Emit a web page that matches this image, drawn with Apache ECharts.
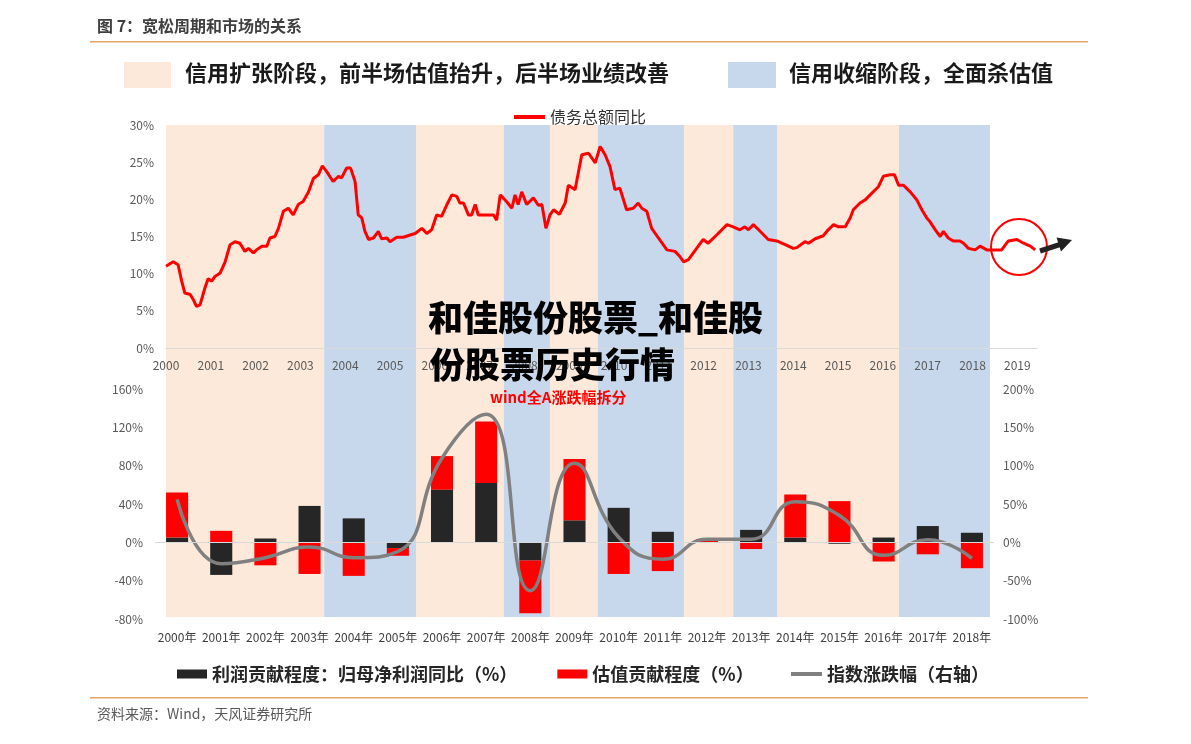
<!DOCTYPE html>
<html>
<head>
<meta charset="utf-8">
<title>宽松周期和市场的关系</title>
<script src="https://cdn.jsdelivr.net/npm/echarts@6.0.0/dist/echarts.min.js"></script>
<style>
  html, body { margin: 0; padding: 0; background: #fff; }
  #chart { width: 1191px; height: 744px; }
</style>
</head>
<body>
<div id="chart"></div>
<script>
// 上图：债务总额同比（%），横轴为年份（小数表示月份位置）
const debtT = [
  2000.00, 2000.16, 2000.27, 2000.35, 2000.42, 2000.54, 2000.61, 2000.68, 2000.76, 2000.87,
  2000.94, 2001.02, 2001.09, 2001.21, 2001.32, 2001.43, 2001.54, 2001.65, 2001.76, 2001.84,
  2001.95, 2002.02, 2002.14, 2002.25, 2002.32, 2002.43, 2002.51, 2002.62, 2002.73, 2002.84,
  2002.95, 2003.06, 2003.18, 2003.29, 2003.40, 2003.49, 2003.59, 2003.73, 2003.85, 2003.92,
  2004.03, 2004.12, 2004.22, 2004.29, 2004.37, 2004.44, 2004.52, 2004.63, 2004.74, 2004.81,
  2004.93, 2005.00, 2005.15, 2005.30, 2005.45, 2005.56, 2005.71, 2005.82, 2005.93, 2006.04,
  2006.15, 2006.27, 2006.38, 2006.49, 2006.56, 2006.64, 2006.75, 2006.82, 2006.90, 2006.97,
  2007.16, 2007.31, 2007.38, 2007.46, 2007.60, 2007.72, 2007.79, 2007.86, 2007.94, 2008.05,
  2008.20, 2008.31, 2008.39, 2008.48, 2008.57, 2008.65, 2008.78, 2008.91,
  2008.98, 2009.13, 2009.28, 2009.43, 2009.58, 2009.69, 2009.80, 2009.91, 2010.02, 2010.13,
  2010.28, 2010.43, 2010.54, 2010.62, 2010.73, 2010.84, 2010.99, 2011.18, 2011.36, 2011.47,
  2011.55, 2011.66, 2011.77, 2011.88, 2011.99, 2012.10, 2012.29, 2012.52, 2012.66, 2012.81,
  2012.92, 2013.00, 2013.11, 2013.26, 2013.44, 2013.63, 2013.82, 2014.00, 2014.08, 2014.26,
  2014.34, 2014.49, 2014.67, 2014.78, 2014.90, 2015.01, 2015.16, 2015.27, 2015.34, 2015.49,
  2015.60, 2015.75, 2015.90, 2016.01, 2016.16, 2016.26, 2016.35, 2016.46, 2016.61, 2016.76,
  2016.87, 2016.98, 2017.05, 2017.17, 2017.28, 2017.35, 2017.46, 2017.57, 2017.72, 2017.80,
  2017.91, 2018.06, 2018.17, 2018.32, 2018.47, 2018.65, 2018.80, 2018.99, 2019.14, 2019.29,
  2019.40
];
const debtYoY = [
  11.0, 11.6, 11.2, 9.0, 7.4, 7.2, 6.5, 5.6, 5.8, 8.1,
  9.3, 9.0, 9.6, 10.1, 11.6, 13.9, 14.3, 14.1, 13.0, 13.4,
  12.8, 13.2, 13.7, 13.7, 14.8, 15.0, 16.1, 18.4, 18.8, 17.9,
  19.3, 19.7, 21.0, 22.8, 23.3, 24.5, 23.7, 22.4, 23.1, 22.9,
  24.2, 24.2, 22.4, 17.9, 17.5, 15.7, 14.6, 14.8, 15.7, 14.7,
  14.8, 14.3, 14.9, 14.9, 15.2, 15.4, 16.1, 15.4, 15.9, 17.9,
  17.7, 19.3, 20.6, 20.4, 19.5, 19.5, 17.9, 17.9, 19.3, 17.9,
  17.9, 17.9, 17.2, 20.6, 19.7, 18.8, 20.6, 19.3, 21.0, 19.3,
  20.2, 19.2, 19.3, 16.1, 17.9, 18.6, 18.0, 19.5,
  21.9, 21.3, 26.0, 26.2, 24.9, 27.1, 26.0, 24.4, 21.3, 21.5,
  18.6, 18.8, 19.5, 18.8, 18.4, 16.1, 14.8, 13.2, 13.0, 12.3,
  11.6, 11.9, 12.8, 13.7, 14.6, 14.1, 15.2, 16.6, 16.3, 15.9,
  16.3, 15.9, 16.6, 15.7, 14.6, 14.4, 13.9, 13.4, 13.5, 14.3,
  14.1, 14.7, 15.1, 15.9, 16.6, 16.3, 16.3, 17.5, 18.6, 19.5,
  19.9, 20.8, 21.7, 23.1, 23.3, 23.3, 21.9, 21.9, 21.0, 19.9,
  18.6, 17.5, 17.0, 15.9, 15.0, 15.7, 14.8, 14.4, 14.4, 14.1,
  13.4, 13.2, 13.7, 13.2, 13.2, 13.2, 14.4, 14.6, 14.1, 13.7,
  13.2
];

// 信用扩张 / 收缩阶段（年份）
const expandPeriods = [[2000, 2003.53], [2005.58, 2007.54], [2008.57, 2009.64], [2011.56, 2012.66], [2013.64, 2016.36]];
const shrinkPeriods = [[2003.53, 2005.58], [2007.54, 2008.57], [2009.64, 2011.56], [2012.66, 2013.64], [2016.36, 2018.39]];

// 下图：wind全A涨跌幅拆分
const years = ['2000年', '2001年', '2002年', '2003年', '2004年', '2005年', '2006年', '2007年', '2008年', '2009年',
  '2010年', '2011年', '2012年', '2013年', '2014年', '2015年', '2016年', '2017年', '2018年'];
const profitPart = [5, -34, 4, 38, 25, -6, 55, 62, -19, 23, 36, 11, 0, 13, 5, -1.5, 5, 17, 10];
const valuePart = [47, 12, -24, -33, -35, -8, 35, 64, -55, 64, -33, -30, 3.5, -7, 45, 43, -20, -12.5, -27];
const indexChg = [56, -28, -20, -6, -20, -12, 110, 167, -63, 103, 6.6, -22, 4, 4, 53, 35, -17, 3.5, -21];

const FONT = "'Noto Sans CJK SC', 'Noto Sans', sans-serif";
const ORANGE_BG = '#FCE9DA';
const BLUE_BG = '#C8D8EC';

const debtData = debtT.map((t, i) => [t, debtYoY[i]]);
const bandData = expandPeriods.map(p => [{ xAxis: p[0], itemStyle: { color: ORANGE_BG } }, { xAxis: p[1] }])
  .concat(shrinkPeriods.map(p => [{ xAxis: p[0], itemStyle: { color: BLUE_BG } }, { xAxis: p[1] }]));

const myChart = echarts.init(document.getElementById('chart'), null, { renderer: 'canvas' });

const option = {
  animation: false,
  textStyle: { fontFamily: FONT },
  legend: [
    {
      data: ['债务总额同比'],
      left: 509, top: 104,
      icon: 'rect', itemWidth: 31, itemHeight: 4, itemGap: 10,
      textStyle: { fontSize: 16, color: '#333', fontFamily: FONT }
    },
    {
      data: ['利润贡献程度：归母净利润同比（%）', '估值贡献程度（%）'],
      left: 172, top: 660,
      icon: 'rect', itemWidth: 30, itemHeight: 9, itemGap: 40,
      textStyle: { fontSize: 18, fontWeight: 'bold', color: '#262626', fontFamily: FONT }
    },
    {
      data: ['指数涨跌幅（右轴）'],
      left: 786, top: 660,
      icon: 'rect', itemWidth: 31, itemHeight: 4,
      textStyle: { fontSize: 18, fontWeight: 'bold', color: '#262626', fontFamily: FONT }
    }
  ],
  grid: [
    { left: 166, right: 154, top: 125, bottom: 396 },   // 上图
    { left: 155, right: 197, top: 389, bottom: 125 },   // 下图
    { left: 166, right: 154, top: 125, bottom: 127 }    // 背景色块
  ],
  xAxis: [
    {
      gridIndex: 0, type: 'value', min: 2000, max: 2019.44, interval: 1, z: 5,
      axisLine: { lineStyle: { color: '#D9D9D9' } },
      axisTick: { show: false },
      splitLine: { show: false },
      axisLabel: {
        color: '#595959', fontSize: 12, margin: 11, showMaxLabel: false,
        formatter: v => (Math.abs(v - Math.round(v)) < 1e-6 ? String(Math.round(v)) : '')
      }
    },
    {
      gridIndex: 1, type: 'category', data: years, z: 5,
      axisLine: { show: false },
      axisTick: { show: false },
      axisLabel: { color: '#404040', fontSize: 12, margin: 12, interval: 0 }
    },
    { gridIndex: 2, type: 'value', min: 2000, max: 2019.44, show: false }
  ],
  yAxis: [
    {
      gridIndex: 0, type: 'value', min: 0, max: 30, interval: 5, z: 5,
      axisLine: { show: false }, axisTick: { show: false }, splitLine: { show: false },
      axisLabel: { color: '#595959', fontSize: 12, margin: 12, formatter: '{value}%' }
    },
    {
      gridIndex: 1, type: 'value', min: -80, max: 160, interval: 40, z: 5,
      axisLine: { show: false }, axisTick: { show: false }, splitLine: { show: false },
      axisLabel: { color: '#595959', fontSize: 12, margin: 12, formatter: '{value}%' }
    },
    {
      gridIndex: 1, type: 'value', position: 'right', min: -100, max: 200, interval: 50, z: 5,
      axisLine: { show: false }, axisTick: { show: false }, splitLine: { show: false },
      axisLabel: { color: '#595959', fontSize: 12, margin: 9, formatter: '{value}%' }
    },
    { gridIndex: 2, type: 'value', min: 0, max: 1, show: false }
  ],
  series: [
    {
      // 背景色块
      type: 'line', xAxisIndex: 2, yAxisIndex: 3, z: 0, silent: true,
      data: [[2000, -1]], symbol: 'none', lineStyle: { width: 0 },
      markArea: { silent: true, data: bandData }
    },
    {
      name: '债务总额同比', type: 'line', xAxisIndex: 0, yAxisIndex: 0, z: 3,
      data: debtData, symbol: 'none',
      lineStyle: { color: '#FF0000', width: 3 },
      itemStyle: { color: '#FF0000' }
    },
    {
      name: '利润贡献程度：归母净利润同比（%）', type: 'bar', xAxisIndex: 1, yAxisIndex: 1, z: 3,
      stack: 'total', barWidth: '50%', data: profitPart,
      itemStyle: { color: '#262626' },
      markLine: {
        silent: true, symbol: ['none', 'none'], label: { show: false },
        lineStyle: { color: '#D9D9D9', type: 'solid', width: 1 },
        data: [{ yAxis: 0 }]
      }
    },
    {
      name: '估值贡献程度（%）', type: 'bar', xAxisIndex: 1, yAxisIndex: 1, z: 3,
      stack: 'total', barWidth: '50%', data: valuePart,
      itemStyle: { color: '#FF0000' }
    },
    {
      name: '指数涨跌幅（右轴）', type: 'line', xAxisIndex: 1, yAxisIndex: 2, z: 4,
      data: indexChg, smooth: 0.5, symbol: 'none',
      lineStyle: { color: '#808080', width: 3.5 },
      itemStyle: { color: '#808080' }
    }
  ],
  graphic: [
    { type: 'text', left: 97, top: 18, style: { text: '图 7：宽松周期和市场的关系', fontSize: 16, fontWeight: 'bold', fill: '#404040', fontFamily: FONT } },
    { type: 'rect', left: 90, top: 41, shape: { width: 998, height: 1.5 }, style: { fill: '#E9A46A' } },
    { type: 'rect', left: 124, top: 62, shape: { width: 47, height: 26 }, style: { fill: ORANGE_BG } },
    { type: 'text', left: 185, top: 62, style: { text: '信用扩张阶段，前半场估值抬升，后半场业绩改善', fontSize: 22, fontWeight: 'bold', fill: '#1a1a1a', fontFamily: FONT } },
    { type: 'rect', left: 728, top: 62, shape: { width: 48, height: 26 }, style: { fill: BLUE_BG } },
    { type: 'text', left: 789, top: 62, style: { text: '信用收缩阶段，全面杀估值', fontSize: 22, fontWeight: 'bold', fill: '#1a1a1a', fontFamily: FONT } },
    { type: 'text', left: 490, top: 390, z: 50, style: { text: 'wind全A涨跌幅拆分', fontSize: 15, fontWeight: 'bold', fill: '#FF0000', fontFamily: FONT } },
    // 标注圈和箭头
    { type: 'circle', z: 50, shape: { cx: 1019, cy: 247, r: 28 }, style: { fill: 'none', stroke: '#FF0000', lineWidth: 2 } },
    { type: 'line', z: 50, shape: { x1: 1040, y1: 251, x2: 1060, y2: 244.5 }, style: { stroke: '#222', lineWidth: 5 } },
    { type: 'polygon', z: 50, shape: { points: [[1072, 240], [1061, 251.5], [1056.5, 237.5]] }, style: { fill: '#222' } },
    // 水印标题
    { type: 'text', left: 428, top: 300, z: 100, style: { text: '和佳股份股票_和佳股', fontSize: 35, fontWeight: 900, fill: '#000', fontFamily: FONT } },
    { type: 'text', left: 430, top: 347, z: 100, style: { text: '份股票历史行情', fontSize: 35, fontWeight: 900, fill: '#000', fontFamily: FONT } },
    // 底部
    { type: 'rect', left: 90, top: 697, shape: { width: 998, height: 1.5 }, style: { fill: '#E9A46A' } },
    { type: 'text', left: 97, top: 707, style: { text: '资料来源：Wind，天风证券研究所', fontSize: 14, fill: '#595959', fontFamily: FONT } }
  ]
};

myChart.setOption(option);
</script>
</body>
</html>
